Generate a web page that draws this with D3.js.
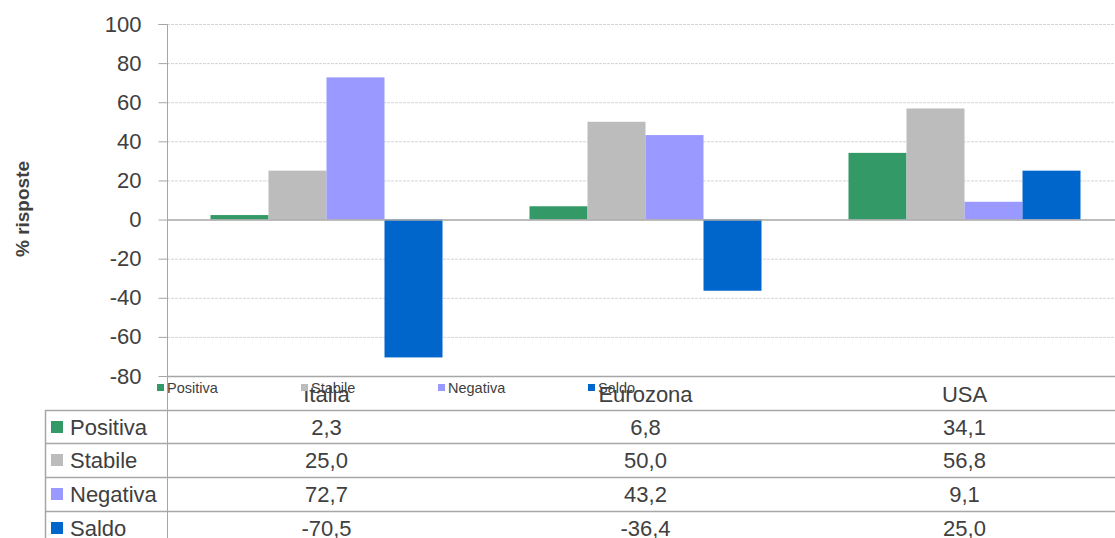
<!DOCTYPE html>
<html>
<head>
<meta charset="utf-8">
<script src="https://cdn.jsdelivr.net/npm/d3@7"></script>
<style>
  html, body { margin: 0; padding: 0; background: #fff; }
  svg { display: block; font-family: "Liberation Sans", Arial, sans-serif; }
</style>
</head>
<body>
<svg id="chart" width="1115" height="538"></svg>
<script>
const categories = ["Italia", "Eurozona", "USA"];
const seriesNames = ["Positiva", "Stabile", "Negativa", "Saldo"];
const positiva = [2.3, 6.8, 34.1];
const stabile = [25.0, 50.0, 56.8];
const negativa = [72.7, 43.2, 9.1];
const saldo = [-70.5, -36.4, 25.0];
const yTicks = [100, 80, 60, 40, 20, 0, -20, -40, -60, -80];
const seriesColors = ["#339966", "#bcbcbc", "#9999ff", "#0066cc"];

const values = [positiva, stabile, negativa, saldo];
const svg = d3.select("#chart");
const textColor = "#404040";

const plotLeft = 167, plotRight = 1124, plotTop = 24, plotBottom = 376;
const y = d3.scaleLinear().domain([-80, 100]).range([plotBottom, plotTop]);
const x0 = d3.scaleBand().domain(categories).range([plotLeft, plotRight]);
const groupW = 232;
const pad = (x0.bandwidth() - groupW) / 2;
const x1 = d3.scaleBand().domain(seriesNames).range([pad, pad + groupW]);

const it = d3.formatLocale({decimal: ",", thousands: ".", grouping: [3], currency: ["", "€"], minus: "-"});
const fmt = it.format(".1f");

// gridlines
svg.append("g").selectAll("line").data(yTicks.filter(d => d !== 0 && d !== -80)).join("line")
  .attr("x1", plotLeft).attr("x2", 1115)
  .attr("y1", d => y(d) + 0.5).attr("y2", d => y(d) + 0.5)
  .attr("stroke", "#d4d4d4").attr("stroke-width", 1).attr("stroke-dasharray", "3,1");

// bars
const bars = svg.append("g");
seriesNames.forEach((s, si) => {
  bars.selectAll(null).data(categories).join("rect")
    .attr("x", c => x0(c) + x1(s))
    .attr("width", x1.bandwidth())
    .attr("y", (c, ci) => Math.min(y(values[si][ci]), y(0)))
    .attr("height", (c, ci) => Math.abs(y(values[si][ci]) - y(0)))
    .attr("fill", seriesColors[si]);
});

// zero line
svg.append("line").attr("x1", plotLeft).attr("x2", 1115)
  .attr("y1", y(0) + 0.5).attr("y2", y(0) + 0.5)
  .attr("stroke", "#a6a6a6").attr("stroke-width", 1.5);

// y axis
const yAxis = d3.axisLeft(y).tickValues(yTicks).tickSize(9).tickPadding(17).tickFormat(d => String(d));
const gy = svg.append("g").attr("transform", `translate(${plotLeft + 0.5},0)`).call(yAxis);
gy.select(".domain").attr("stroke", "#a6a6a6").attr("d", `M-9,${plotTop + 0.5}H0V538`);
gy.selectAll(".tick line").attr("stroke", "#a6a6a6");
gy.selectAll(".tick text").attr("fill", textColor).style("font-size", "22px")
  .style("font-family", "'Liberation Sans', Arial, sans-serif");

// axis title
svg.append("text").attr("transform", `translate(29,${209}) rotate(-90)`)
  .attr("text-anchor", "middle").attr("fill", textColor)
  .style("font-size", "19px").style("font-weight", "bold").text("% risposte");

// table lines
const rowLines = [376, 410, 443, 477, 511];
svg.append("g").selectAll("line").data(rowLines).join("line")
  .attr("x1", (d, i) => i === 0 ? plotLeft : 45).attr("x2", 1115)
  .attr("y1", d => d + 0.5).attr("y2", d => d + 0.5)
  .attr("stroke", "#a6a6a6").attr("stroke-width", 1.5);
svg.append("line").attr("x1", 45.5).attr("x2", 45.5).attr("y1", 410).attr("y2", 538)
  .attr("stroke", "#a6a6a6").attr("stroke-width", 1.5);

// category header
svg.append("g").selectAll("text").data(categories).join("text")
  .attr("x", c => x0(c) + x0.bandwidth() / 2).attr("y", 402)
  .attr("text-anchor", "middle").attr("fill", textColor).style("font-size", "22px")
  .text(c => c);

// table rows
seriesNames.forEach((s, si) => {
  const rowTop = rowLines[si + 1];
  const g = svg.append("g");
  g.append("rect").attr("x", 51).attr("y", rowTop + 11).attr("width", 12).attr("height", 12)
    .attr("fill", seriesColors[si]);
  g.append("text").attr("x", 70).attr("y", rowTop + 25).attr("fill", textColor)
    .style("font-size", "22px").text(s);
  g.selectAll(null).data(categories).join("text")
    .attr("x", c => x0(c) + x0.bandwidth() / 2).attr("y", rowTop + 25)
    .attr("text-anchor", "middle").attr("fill", textColor).style("font-size", "22px")
    .text((c, ci) => fmt(values[si][ci]));
});

// overlapping legend
const legendX = [157, 301, 438, 588];
const lg = svg.append("g");
seriesNames.forEach((s, si) => {
  lg.append("rect").attr("x", legendX[si]).attr("y", 384).attr("width", 7).attr("height", 7)
    .attr("fill", seriesColors[si]);
  lg.append("text").attr("x", legendX[si] + 10).attr("y", 393).attr("fill", textColor)
    .style("font-size", "14.5px").text(s);
});
</script>
</body>
</html>
